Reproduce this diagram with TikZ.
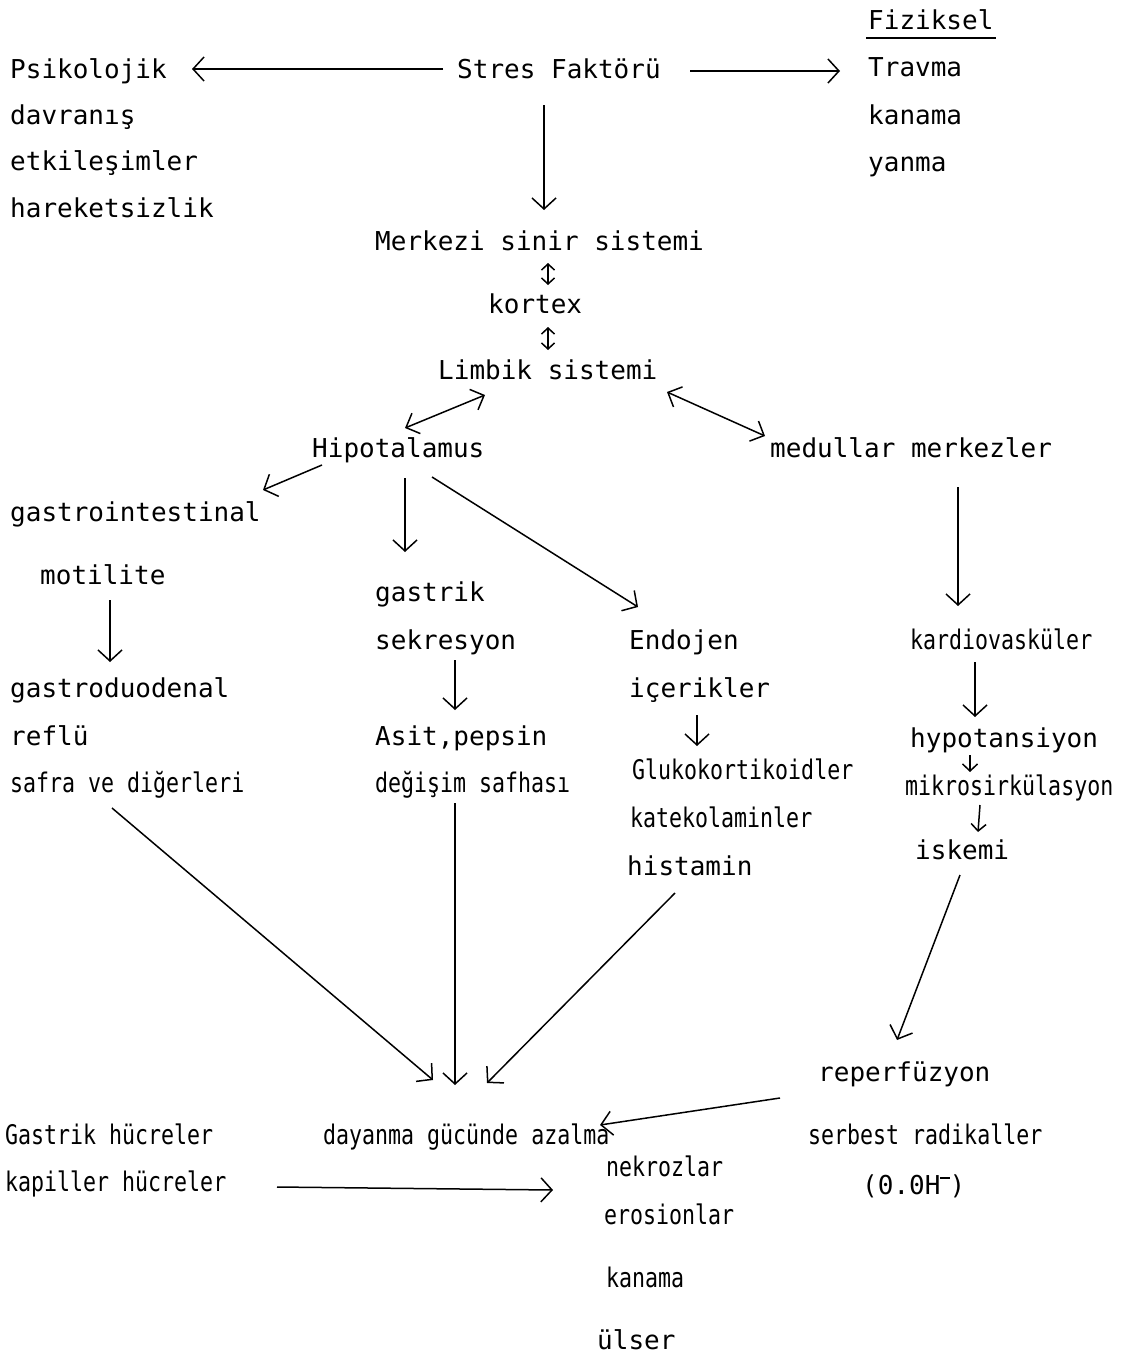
\documentclass[tikz,border=0pt]{standalone}
\usepackage{fontspec}
\setmainfont{DejaVu Sans Mono}
\newfontfamily\condfont[FakeStretch=0.8]{DejaVu Sans Mono}
\usetikzlibrary{arrows.meta,calc}
\begin{document}
\begin{tikzpicture}[x=1pt,y=-1pt,
  lbl/.style={anchor=west,inner sep=0pt,text height=23pt,text depth=4pt,
    font=\fontsize{26}{30}\selectfont},
  clbl/.style={lbl,font=\fontsize{27}{30}\selectfont\condfont},
  arr/.style={line width=1.5pt,-{Straight Barb[length=11pt,width=24pt,line width=1.5pt]}},
  darr/.style={line width=1.5pt,{Straight Barb[length=6pt,width=13pt,line width=1.5pt]}-{Straight Barb[length=6pt,width=13pt,line width=1.5pt]}},
  barr/.style={line width=1.5pt,{Straight Barb[length=11pt,width=22pt,line width=1.5pt]}-{Straight Barb[length=11pt,width=22pt,line width=1.5pt]}},
  sarr/.style={line width=1.5pt,-{Straight Barb[length=7pt,width=15pt,line width=1.5pt]}}]
\useasboundingbox (0,0) rectangle (1131,1357);
\fill[white] (0,0) rectangle (1131,1357);
% nodes
\node[lbl] (fiz) at (868,20) {Fiziksel};
\node[lbl] (psik) at (10,69) {Psikolojik};
\node[lbl] (stres) at (457,69) {Stres Faktörü};
\node[lbl] (travma) at (868,67) {Travma};
\node[lbl] (davr) at (10,115) {davranış};
\node[lbl] (kanama1) at (868,115) {kanama};
\node[lbl] (etki) at (10,161) {etkileşimler};
\node[lbl] (yanma) at (868,162) {yanma};
\node[lbl] (hareket) at (10,208) {hareketsizlik};
\node[lbl] (merkezi) at (375,241) {Merkezi sinir sistemi};
\node[lbl] (kortex) at (488,304) {kortex};
\node[lbl] (limbik) at (438,370) {Limbik sistemi};
\node[lbl] (hipo) at (312,448) {Hipotalamus};
\node[lbl] (medullar) at (770,448) {medullar merkezler};
\node[lbl] (gastroint) at (10,512) {gastrointestinal};
\node[lbl] (motilite) at (40,575) {motilite};
\node[lbl] (gastrik) at (375,592) {gastrik};
\node[lbl] (sekresyon) at (375,640) {sekresyon};
\node[lbl] (endojen) at (629,640) {Endojen};
\node[clbl] (kardio) at (910,640) {kardiovasküler};
\node[lbl] (gastroduo) at (10,688) {gastroduodenal};
\node[lbl] (icerikler) at (629,688) {içerikler};
\node[lbl] (reflu) at (10,736) {reflü};
\node[lbl] (asit) at (375,736) {Asit,pepsin};
\node[lbl] (hypot) at (910,738) {hypotansiyon};
\node[clbl] (safra) at (10,783) {safra ve diğerleri};
\node[clbl] (degisim) at (375,783) {değişim safhası};
\node[clbl] (gluko) at (632,770) {Glukokortikoidler};
\node[clbl] (mikro) at (905,786) {mikrosirkülasyon};
\node[clbl] (kateko) at (630,818) {katekolaminler};
\node[lbl] (iskemi) at (915,850) {iskemi};
\node[lbl] (histamin) at (627,866) {histamin};
\node[lbl] (reperf) at (818,1072) {reperfüzyon};
\node[clbl] (gastrikh) at (5,1135) {Gastrik hücreler};
\node[clbl] (dayanma) at (323,1135) {dayanma gücünde azalma};
\node[clbl] (serbest) at (808,1135) {serbest radikaller};
\node[clbl] (kapiller) at (5,1182) {kapiller hücreler};
\node[clbl] (nekroz) at (606,1167) {nekrozlar};
\node[lbl] (oh) at (862,1185) {(0.0H\raisebox{0.6em}{\rule{0.35em}{1.6pt}})};
\node[clbl] (erosion) at (604,1215) {erosionlar};
\node[clbl] (kanama2) at (606,1278) {kanama};
\node[lbl] (ulser) at (597,1340) {ülser};
% underline
\draw[line width=1.3pt] ($(fiz.west)+(-2,18)$) -- ($(fiz.east)+(2,18)$);
% connectors
\draw[arr] ($(stres.west)+(-14,0)$) -- ($(psik.west)+(182,0)$);
\draw[arr] ($(stres.west)+(233,2)$) -- ($(travma.west)+(-28,4)$);
\draw[arr] ($(stres.west)+(87,36)$) -- ($(merkezi.west)+(169,-31)$);
\draw[darr] ($(merkezi.west)+(173,22)$) -- ($(kortex.west)+(60,-19)$);
\draw[darr] ($(kortex.west)+(60,23)$) -- ($(limbik.west)+(110,-20)$);
\draw[barr] ($(limbik.west)+(47,25)$) -- ($(hipo.west)+(93,-20)$);
\draw[barr] ($(limbik.west)+(229,22)$) -- ($(medullar.west)+(-5,-12)$);
\draw[arr] ($(hipo.west)+(10,17)$) -- ($(gastroint.west)+(253,-22)$);
\draw[arr] ($(hipo.west)+(93,30)$) -- ($(gastrik.west)+(30,-40)$);
\draw[arr] ($(hipo.west)+(120,29)$) -- ($(endojen.west)+(9,-33)$);
\draw[arr] ($(medullar.west)+(188,39)$) -- ($(kardio.west)+(48,-34)$);
\draw[arr] ($(motilite.west)+(70,25)$) -- ($(gastroduo.west)+(100,-26)$);
\draw[arr] ($(sekresyon.west)+(80,20)$) -- ($(asit.west)+(80,-26)$);
\draw[arr] ($(icerikler.west)+(68,27)$) -- ($(gluko.west)+(65,-24)$);
\draw[arr] ($(kardio.west)+(65,22)$) -- ($(hypot.west)+(65,-21)$);
\draw[sarr] ($(hypot.west)+(60,17)$) -- ($(mikro.west)+(65,-14)$);
\draw[sarr] ($(mikro.west)+(75,19)$) -- ($(iskemi.west)+(63,-18)$);
\draw[arr] ($(safra.west)+(102,25)$) -- ($(dayanma.west)+(110,-55)$);
\draw[arr] ($(degisim.west)+(80,20)$) -- ($(dayanma.west)+(132,-50)$);
\draw[arr] ($(histamin.west)+(48,27)$) -- ($(dayanma.west)+(164,-52)$);
\draw[arr] ($(iskemi.west)+(45,25)$) -- ($(reperf.west)+(79,-32)$);
\draw[arr] ($(reperf.west)+(-38,26)$) -- ($(dayanma.west)+(277,-10)$);
\draw[arr] ($(kapiller.west)+(272,5)$) -- ($(nekroz.west)+(-53,23)$);
\end{tikzpicture}
\end{document}
